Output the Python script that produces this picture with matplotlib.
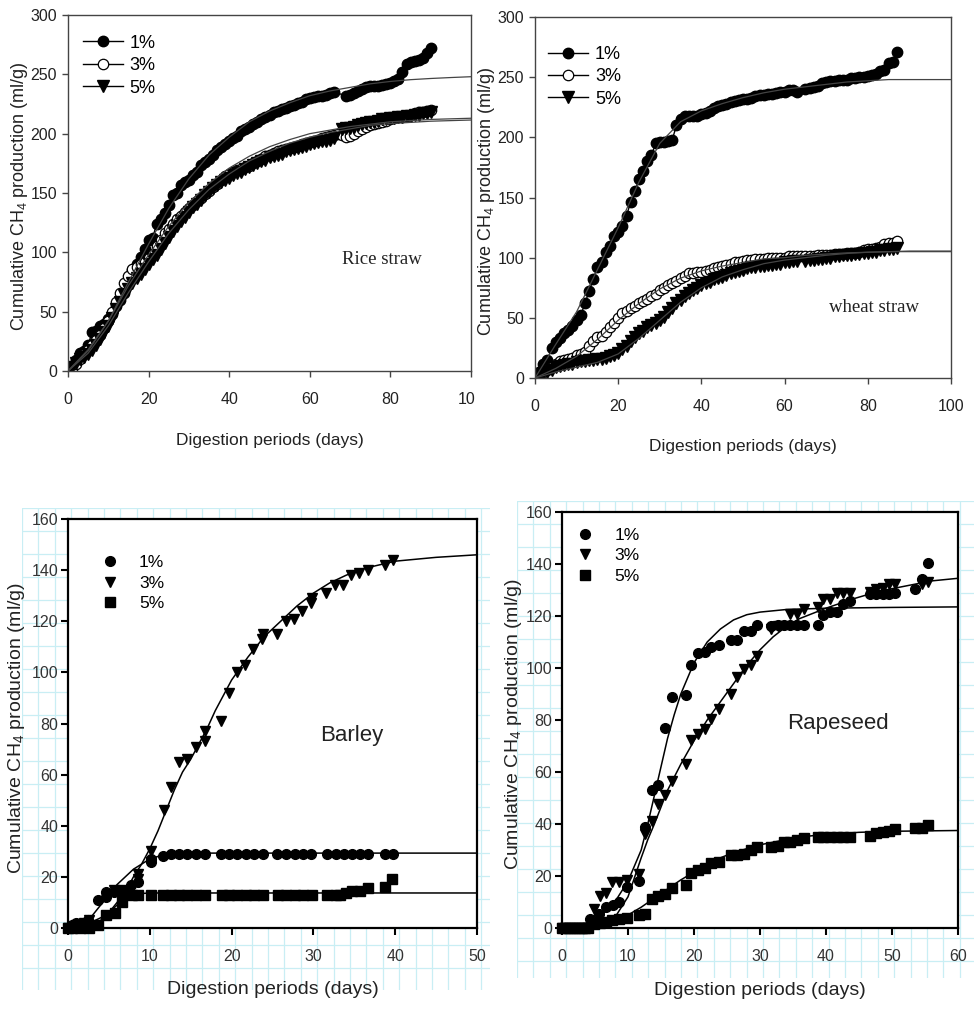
import numpy as np
import matplotlib
matplotlib.use("Agg")
import matplotlib.pyplot as plt
from matplotlib.transforms import Bbox, TransformedBbox

NARROW = ['Liberation Sans Narrow', 'Liberation Sans', 'DejaVu Sans']
plt.rcParams['font.family'] = NARROW
plt.rcParams['mathtext.fontset'] = 'custom'
plt.rcParams['mathtext.rm'] = 'Liberation Sans'

YLABEL = r'Cumulative CH$_\mathrm{4}$ production (ml/g)'
XLABEL = 'Digestion periods (days)'

# ---------------- rice straw ----------------
rice_1_x = list(range(0, 67)) + list(range(69, 91))
rice_1_y = [0, 3, 9, 15, 17, 22, 33, 34, 38, 40,
            44, 48, 55, 60, 66, 73, 85, 90, 96, 103,
            110, 112, 124, 128, 133, 140, 148, 150, 157, 159,
            161, 165, 168, 174, 176, 179, 182, 186, 189, 191,
            194, 196, 198, 202, 204, 206, 208, 210, 212, 214,
            216, 218, 219, 221, 222, 223, 224, 226, 227, 229,
            230, 231, 232, 232, 233, 234, 235,
            232, 233, 234, 236, 238, 239, 240, 240, 240, 241,
            242, 243, 244, 246, 252, 259, 260, 261, 262, 264, 268, 272]
rice_3_x = list(range(0, 91))
rice_3_y = [0, 2, 6, 10, 14, 18, 22, 26, 30, 36,
            42, 50, 58, 66, 74, 80, 86, 88, 90, 92,
            95, 99, 105, 110, 116, 120, 124, 128, 131, 134,
            137, 140, 143, 146, 149, 152, 155, 158, 161, 164,
            166, 168, 169, 170, 172, 173, 175, 177, 179, 181,
            182, 184, 185, 186, 187, 188, 189, 190, 191, 192,
            193, 194, 195, 196, 197, 198, 199, 200, 199, 197,
            198, 200, 202, 204, 206, 207, 208, 209, 210, 211,
            212, 213, 214, 214, 215, 216, 217, 218, 218, 219, 220]
rice_5_x = list(range(0, 67)) + list(range(68, 91))
rice_5_y = [0, 3, 7, 10, 12, 14, 18, 22, 27, 33,
            38, 45, 52, 58, 64, 69, 74, 78, 82, 86,
            90, 94, 98, 103, 108, 113, 118, 122, 126, 130,
            134, 138, 141, 144, 148, 151, 154, 157, 159, 161,
            163, 165, 167, 168, 170, 172, 174, 175, 177, 178,
            180, 181, 182, 183, 185, 186, 187, 188, 189, 190,
            191, 192, 193, 194, 194, 195, 196,
            204, 205, 205, 206, 207, 208, 209, 210, 210, 211, 212, 212,
            213, 213, 214, 214, 215, 215, 216, 216, 217, 217, 218]
fit_x_top = list(range(0, 101, 5))
rice_fit_1 = [0, 18, 42, 75, 107, 137, 162, 182, 197, 210, 219, 226, 232, 236,
              239, 242, 244, 245.5, 246.5, 247.3, 248]
rice_fit_3 = [0, 17, 42, 72, 98, 122, 142, 158, 171, 181, 189, 195, 200, 203,
              206, 208, 210, 211, 212, 212.5, 213]
rice_fit_5 = [0, 15, 38, 66, 92, 116, 136, 153, 166, 177, 185, 192, 197, 201,
              204, 207, 208.5, 209.5, 210.5, 211, 211.5]

# ---------------- wheat straw ----------------
wheat_1_x = list(range(0, 64)) + list(range(65, 88))
wheat_1_y = [0, 5, 12, 15, 25, 30, 33, 37, 40, 43,
             48, 52, 62, 72, 82, 92, 96, 105, 110, 118,
             121, 126, 135, 146, 155, 165, 172, 180, 185, 195,
             196, 196, 197, 198, 210, 215, 218, 218, 218, 218,
             219, 220, 222, 224, 226, 227, 228, 229, 230, 231,
             232, 232, 233, 234, 235, 235, 236, 236, 237, 238,
             238, 239, 239, 238,
             240, 241, 242, 243, 245, 246, 247, 247, 248, 248, 248, 249,
             249, 250, 250, 251, 252, 253, 255, 256, 262, 263, 271]
wheat_3_x = list(range(0, 88))
wheat_3_y = [0, 3, 5, 7, 9, 12, 14, 15, 16, 17,
             19, 20, 22, 27, 31, 34, 35, 38, 42, 46,
             50, 54, 56, 58, 60, 62, 64, 66, 68, 70,
             73, 75, 77, 79, 81, 83, 85, 87, 87, 88,
             88, 89, 90, 91, 92, 93, 94, 95, 96, 96,
             97, 98, 98, 99, 99, 99, 100, 100, 100, 100,
             100, 101, 101, 101, 101, 101, 101, 101, 102, 102,
             102, 102, 103, 103, 103, 104, 104, 104, 105, 106,
             107, 107, 108, 109, 111, 112, 112, 114]
wheat_5_x = list(range(0, 64)) + list(range(65, 88))
wheat_5_y = [0, 2, 4, 5, 7, 9, 10, 11, 12, 12,
             13, 14, 14, 15, 15, 16, 16, 17, 18, 19,
             21, 24, 27, 31, 34, 37, 39, 42, 44, 46,
             48, 51, 55, 58, 62, 65, 68, 71, 73, 75,
             77, 79, 80, 82, 83, 84, 86, 87, 88, 89,
             90, 91, 92, 92, 93, 93, 94, 94, 95, 95,
             96, 96, 97, 97,
             97, 98, 98, 99, 99, 100, 100, 101, 101, 102, 102, 102,
             103, 103, 104, 104, 105, 105, 106, 106, 107, 107, 108]
wheat_fit_1 = [0, 28, 55, 90, 125, 163, 195, 213, 222, 228, 233, 237, 240, 242,
               244, 246, 247, 248, 248, 248, 248]
wheat_fit_3 = [0, 8, 18, 32, 48, 62, 74, 83, 89, 93, 96, 99, 100, 102, 103,
               104, 104.5, 105, 105, 105, 105]
wheat_fit_5 = [0, 5, 9, 13, 20, 33, 48, 63, 75, 84, 90, 95, 98, 100, 102,
               103.5, 104.5, 105, 105.5, 105.5, 105.5]

# ---------------- barley ----------------
barley_1_x = [0, 0.5, 1, 1.5, 2.5, 3.7, 4.6, 4.7, 5.6, 7.7, 8.5, 10.1, 10.1, 11.6,
              12.6, 13.6, 14.6, 15.6, 16.7, 18.7, 19.7, 20.7, 21.7, 22.7, 23.8,
              25.6, 26.7, 27.7, 28.7, 29.7, 31.7, 32.8, 33.7, 34.7, 35.7, 36.7,
              38.8, 39.7]
barley_1_y = [0, 1, 2, 1, 3, 11, 12, 14, 14, 17, 18, 26, 27, 28,
              29, 29, 29, 29, 29, 29, 29, 29, 29, 29, 29,
              29, 29, 29, 29, 29, 29, 29, 29, 29, 29, 29,
              29, 29]
barley_3_x = [0, 0.5, 1, 2, 2.6, 4.6, 5.6, 6.6, 8.5, 8.5, 10.1, 10.1, 11.7, 12.6,
              13.6, 14.6, 15.6, 16.7, 16.8, 18.7, 19.7, 20.6, 21.6, 22.6, 23.7,
              23.8, 25.6, 26.6, 27.6, 28.6, 29.7, 29.8, 31.6, 32.7, 33.6, 34.6,
              35.6, 36.7, 38.7, 39.7]
barley_3_y = [0, 0, 1, 2, 3, 12, 15, 15, 19, 21, 26, 30, 46, 55,
              65, 66, 71, 73, 77, 81, 92, 100, 103, 109, 113,
              115, 115, 120, 121, 124, 127, 129, 131, 134, 134, 138,
              139, 140, 142, 144]
barley_5_x = [0, 0.5, 1.5, 2.6, 3.7, 4.7, 5.7, 6.6, 6.7, 7.8, 8.5, 10.1, 11.6,
              12.6, 13.6, 14.6, 15.6, 16.8, 18.8, 19.7, 20.7, 21.7, 22.7, 23.8,
              25.7, 26.7, 27.7, 28.7, 29.8, 31.7, 32.8, 33.3, 34.0, 34.7, 35.7,
              36.7, 38.8, 39.6]
barley_5_y = [0, 0, 0, 0, 1, 5, 6, 10, 14, 13, 13, 13, 13,
              13, 13, 13, 13, 13, 13, 13, 13, 13, 13, 13,
              13, 13, 13, 13, 13, 13, 13, 13, 13.5, 14.5, 14.5,
              15.5, 16, 19]
barley_fit_1_x = [0, 1, 2, 3, 4, 5, 6, 7, 8, 9, 10, 11, 12, 14, 16, 18, 20, 25,
                  30, 35, 40, 45, 50]
barley_fit_1_y = [0, 0.5, 2, 5, 9, 13, 17, 20, 23, 25, 27, 28, 28.5, 29, 29.3,
                  29.3, 29.3, 29.3, 29.3, 29.3, 29.3, 29.3, 29.3]
barley_fit_3_x = [0, 2, 4, 5, 6, 7, 8, 9, 10, 11, 12, 13, 14, 15, 16, 17, 18, 19,
                  20, 22, 24, 26, 28, 30, 32, 34, 36, 38, 40, 45, 50]
barley_fit_3_y = [0, 1, 4, 6, 10, 14, 20, 25, 31, 38, 46, 54, 61, 66, 72, 78, 85,
                  91, 97, 106, 114, 120, 126, 131, 135, 138, 140.5, 142, 143.5,
                  145, 146]
barley_fit_5_x = [0, 2, 3, 4, 5, 6, 7, 8, 9, 10, 12, 15, 20, 30, 40, 50]
barley_fit_5_y = [0, 0, 1, 3, 6, 9, 11.5, 13, 13.5, 13.7, 13.7, 13.7, 13.7,
                  13.7, 13.7, 13.7]

# ---------------- rapeseed ----------------
rape_1_x = [0, 0.5, 1, 1.5, 2, 2.5, 3, 3.5, 4.3, 5.6, 6.6, 7.7, 8.6, 9.9, 11.7,
            12.6, 13.6, 14.6, 15.6, 16.7, 18.8, 19.6, 20.6, 21.6, 22.6, 23.8,
            25.6, 26.5, 27.5, 28.6, 29.5, 31.6, 32.8, 33.6, 34.6, 35.6, 36.6,
            38.8, 39.6, 40.6, 41.6, 42.6, 43.6, 46.6, 47.6, 48.6, 49.6, 50.5,
            53.5, 54.5, 55.5]
rape_1_y = [0, 0, 0, 0, 0, 0, 0, 0, 3.6, 5.5, 8, 8.7, 10, 15.7, 18,
            39, 53, 55, 77, 88.7, 89.6, 101, 105.8, 106, 108, 109,
            110.8, 110.8, 114.3, 114.3, 116.5, 116, 116.5, 116.5, 116.5, 116.5,
            116.5, 116.5, 120.4, 121.4, 121.4, 124.6, 125.9, 128.4, 128.4,
            128.4, 128.4, 129, 130.3, 134.4, 140.3]
rape_3_x = [0, 0.5, 1, 1.5, 2, 2.5, 3, 3.5, 4, 4.8, 5.8, 6.7, 7.6, 8.6, 9.9,
            11.7, 12.6, 13.6, 14.6, 15.6, 16.7, 18.8, 19.6, 20.6, 21.6, 22.6,
            23.8, 25.6, 26.5, 27.5, 28.6, 29.5, 31.6, 32.8, 34.6, 35.6, 36.6,
            38.8, 39.6, 40.6, 41.6, 42.6, 43.6, 46.6, 47.6, 48.6, 49.6, 50.5,
            54.5, 55.5]
rape_3_y = [0, 0, 0, 0, 0, 0, 0, 0, 0, 7.4, 12.3, 13.6, 17.7, 17.7, 18.3,
            20.9, 36, 41, 47.8, 51, 56.7, 63, 72.5, 74.6, 76.6, 80.4,
            84.3, 90, 96.4, 99.6, 101, 104.7, 115, 116.3, 120.7, 120.7, 122.7,
            123.3, 126.5, 126.5, 128.8, 128.8, 128.8, 129.3, 130.3, 130.6,
            132.3, 132.3, 132.3, 133]
rape_5_x = [0, 0.5, 1, 1.5, 2, 2.5, 3, 3.5, 4, 4.8, 5.8, 6.7, 7.6, 8.6, 9.9,
            11.7, 12.6, 13.6, 14.6, 15.6, 16.7, 18.8, 19.6, 20.6, 21.6, 22.6,
            23.8, 25.6, 26.5, 27.5, 28.6, 29.5, 31.6, 32.8, 33.6, 34.6, 35.6,
            36.6, 38.8, 39.6, 40.6, 41.6, 42.6, 43.6, 46.6, 47.6, 48.6, 49.6,
            50.5, 53.5, 54.5, 55.5]
rape_5_y = [0, 0, 0, 0, 0, 0, 0, 0, 0, 1.5, 2, 2.5, 3, 3.5, 4,
            5, 5.5, 11, 12.5, 13, 15.5, 16.5, 21, 22.5, 23, 25,
            25.5, 28, 28, 28.5, 30, 31, 31, 31.5, 33, 33, 34,
            34.5, 35, 35, 35, 35, 35, 35, 35.5, 36.5, 37, 37.5,
            38, 38.5, 38.5, 39.5]
rape_fit_1_x = [0, 2, 4, 6, 8, 10, 12, 13, 14, 15, 16, 17, 18, 19, 20, 22, 24,
                26, 28, 30, 34, 40, 50, 60]
rape_fit_1_y = [0, 0.5, 2, 5, 10, 18, 30, 40, 51, 62, 73, 82, 90, 96, 102, 110,
                115, 118.5, 120.5, 121.5, 122.5, 123, 123.3, 123.5]
rape_fit_3_x = [0, 4, 6, 8, 10, 12, 13, 14, 16, 18, 20, 22, 24, 26, 28, 30, 32,
                34, 36, 38, 40, 44, 48, 52, 56, 60]
rape_fit_3_y = [0, 0.5, 2, 4, 12, 27, 34, 40, 53, 63, 72, 80, 87, 94, 101, 107,
                112, 116, 119, 121, 123, 126.5, 129.5, 131.5, 133.5, 134.5]
rape_fit_5_x = [0, 4, 6, 8, 10, 12, 14, 16, 18, 20, 22, 24, 26, 28, 30, 32, 34,
                36, 40, 45, 50, 60]
rape_fit_5_y = [0, 0.5, 1.5, 3, 5, 8, 11.5, 15, 18.5, 21.5, 24.5, 27, 29, 30.5,
                32, 33, 34, 35, 36, 36.8, 37.2, 37.5]

labels = ['1%', '3%', '5%']

W, H = 974, 1027
fig = plt.figure(figsize=(W / 100, H / 100), dpi=100)


def px_axes(x0, y0, x1, y1, **kw):
    # axes placed by pixel box (top-left origin)
    return fig.add_axes([x0 / W, 1 - y1 / H, (x1 - x0) / W, (y1 - y0) / H], **kw)


def grid_background(x0, y0, x1, y1):
    bg = px_axes(x0, y0, x1, y1, zorder=0)
    bg.set_xlim(0, x1 - x0)
    bg.set_ylim(y1 - y0, 0)
    bg.set_xticks(np.arange(0, x1 - x0 + 1, 16.4))
    bg.set_yticks(np.arange(0, y1 - y0 + 1, 23))
    bg.grid(True, color='#c9eef4', linewidth=0.9)
    bg.tick_params(length=0, labelbottom=False, labelleft=False)
    for s in bg.spines.values():
        s.set_visible(False)
    bg.set_facecolor('none')
    return bg


def top_panel(ax, xmax, series, fits, note, note_xy):
    styles = [dict(marker='o', mfc='black', mec='black', ms=7.5),
              dict(marker='o', mfc='white', mec='black', ms=7.5, mew=0.9),
              dict(marker='v', mfc='black', mec='black', ms=8)]
    handles = []
    for (xs, ys), st, lab in zip(series, styles, labels):
        h, = ax.plot(xs, ys, color='black', lw=1.0, label=lab, **st)
        handles.append(h)
    for ys in fits:
        ax.plot(fit_x_top, ys, color='#444444', lw=0.9, zorder=3)
    ax.set_xlim(0, xmax)
    ax.set_ylim(0, 300)
    ax.set_xticks(range(0, 101, 20))
    ax.set_yticks(range(0, 301, 50))
    for s in ax.spines.values():
        s.set_color('#444444')
        s.set_linewidth(1)
    ax.tick_params(direction='out', length=4, width=1, color='#444444',
                   labelsize=11.5, labelcolor='#222222')
    ax.tick_params(axis='x', pad=11)
    ax.tick_params(axis='y', pad=4)
    ax.text(note_xy[0], note_xy[1], note, family='Liberation Serif', fontsize=13.5,
            ha='center', va='center', color='#222222')
    ax.set_ylabel(YLABEL, fontsize=13, color='#222222')
    ax.set_xlabel(XLABEL, fontsize=12.5, color='#222222')
    return handles


def bottom_panel(ax, xmax, xstep, series, fits, note, note_xy):
    markers = ['o', 'v', 's']
    sizes = [7, 7.5, 7]
    handles = []
    for (xs, ys), m, ms, lab in zip(series, markers, sizes, labels):
        h, = ax.plot(xs, ys, ls='none', marker=m, ms=ms, color='black',
                     label=lab, zorder=4, clip_on=False)
        handles.append(h)
    for xs, ys in fits:
        ax.plot(xs, ys, color='black', lw=1.1, zorder=3)
    ax.set_xlim(0, xmax)
    ax.set_ylim(0, 160)
    ax.set_xticks(range(0, xmax + 1, xstep))
    ax.set_yticks(range(0, 161, 20))
    ax.set_facecolor('white')
    for s in ax.spines.values():
        s.set_color('black')
        s.set_linewidth(1.6)
    ax.tick_params(direction='out', length=5, width=1.5, color='black',
                   labelsize=11.5, labelcolor='#333333')
    ax.tick_params(axis='x', pad=10)
    ax.tick_params(axis='y', pad=2)
    ax.text(note_xy[0], note_xy[1], note, family='Liberation Sans', fontsize=16,
            ha='center', va='center', color='#222222')
    ax.set_ylabel(YLABEL, fontsize=14, color='#222222')
    ax.set_xlabel(XLABEL, fontsize=14, color='#222222')
    return handles


# ---- top left: rice straw ----
ax1 = px_axes(68, 15, 471, 371)
h1 = top_panel(ax1, 100,
               [(rice_1_x, rice_1_y), (rice_3_x, rice_3_y), (rice_5_x, rice_5_y)],
               [rice_fit_1, rice_fit_3, rice_fit_5], 'Rice straw', (78, 94))
ax1.legend(handles=h1, loc='upper left', bbox_to_anchor=(0.01, 0.975), frameon=False,
           fontsize=13, handlelength=2.2, handletextpad=0.4, labelspacing=0.3,
           borderaxespad=0.2)
ax1.yaxis.set_label_coords(-0.095, 0.49)
ax1.xaxis.set_label_coords(0.5, -0.175)
# the "100" label is cut by the panel's right border in the source
clip = TransformedBbox(Bbox([[0, 0], [4.745, 10.27]]), fig.dpi_scale_trans)
for lab in ax1.get_xticklabels():
    lab.set_clip_box(clip)
    lab.set_clip_on(True)

# ---- top right: wheat straw ----
ax2 = px_axes(535, 17, 951, 378)
h2 = top_panel(ax2, 100,
               [(wheat_1_x, wheat_1_y), (wheat_3_x, wheat_3_y), (wheat_5_x, wheat_5_y)],
               [wheat_fit_1, wheat_fit_3, wheat_fit_5], 'wheat straw', (81.5, 59))
ax2.legend(handles=h2, loc='upper left', bbox_to_anchor=(0.005, 0.95), frameon=False,
           fontsize=13, handlelength=2.2, handletextpad=0.4, labelspacing=0.3,
           borderaxespad=0.2)
ax2.yaxis.set_label_coords(-0.092, 0.49)
ax2.xaxis.set_label_coords(0.5, -0.17)

# ---- bottom left: barley ----
grid_background(22, 508, 490, 990)
ax3 = px_axes(68, 519, 477, 928, zorder=2)
h3 = bottom_panel(ax3, 50, 10,
                  [(barley_1_x, barley_1_y), (barley_3_x, barley_3_y),
                   (barley_5_x, barley_5_y)],
                  [(barley_fit_1_x, barley_fit_1_y), (barley_fit_3_x, barley_fit_3_y),
                   (barley_fit_5_x, barley_fit_5_y)], 'Barley', (34.7, 75.5))
ax3.legend(handles=h3, loc='upper left', bbox_to_anchor=(0.055, 0.937), frameon=False,
           fontsize=12.5, handlelength=1.0, handletextpad=1.2, labelspacing=0.3,
           borderaxespad=0.2)
ax3.yaxis.set_label_coords(-0.1, 0.49)
ax3.xaxis.set_label_coords(0.5, -0.13)

# ---- bottom right: rapeseed ----
grid_background(517, 501, 974, 978)
ax4 = px_axes(562, 512, 958, 928, zorder=2)
h4 = bottom_panel(ax4, 60, 10,
                  [(rape_1_x, rape_1_y), (rape_3_x, rape_3_y), (rape_5_x, rape_5_y)],
                  [(rape_fit_1_x, rape_fit_1_y), (rape_fit_3_x, rape_fit_3_y),
                   (rape_fit_5_x, rape_fit_5_y)], 'Rapeseed', (41.8, 78.8))
ax4.legend(handles=h4, loc='upper left', bbox_to_anchor=(0.01, 0.987), frameon=False,
           fontsize=12.5, handlelength=1.0, handletextpad=1.2, labelspacing=0.3,
           borderaxespad=0.2)
ax4.yaxis.set_label_coords(-0.095, 0.49)
ax4.xaxis.set_label_coords(0.5, -0.13)

fig.savefig('out.png', dpi=100)
